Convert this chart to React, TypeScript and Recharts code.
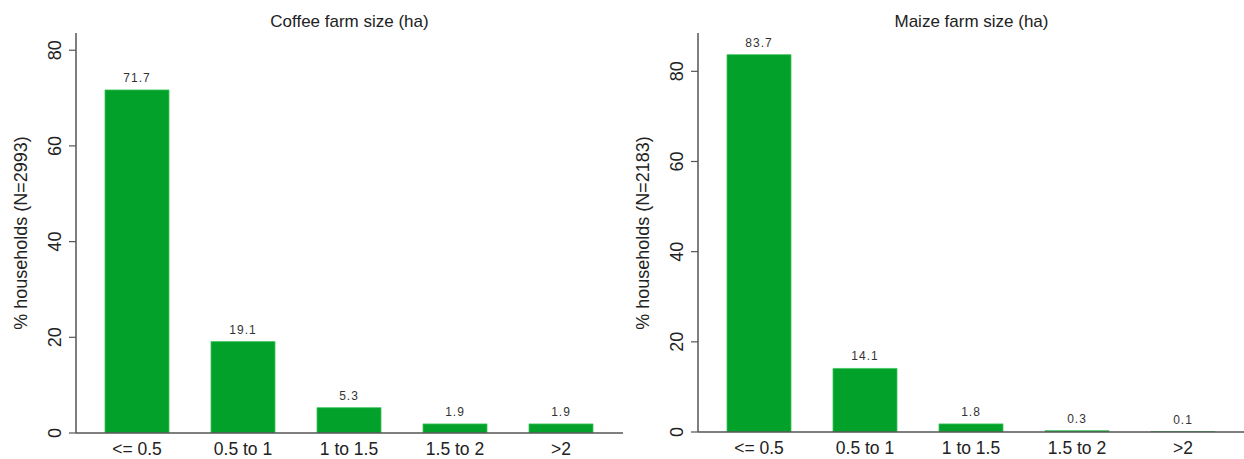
import React from 'react';
import { BarChart, Bar, XAxis, YAxis, LabelList } from 'recharts';

const categories = ['<= 0.5', '0.5 to 1', '1 to 1.5', '1.5 to 2', '>2'];
const coffeeShare = [71.7, 19.1, 5.3, 1.9, 1.9];
const maizeShare = [83.7, 14.1, 1.8, 0.3, 0.1];
const yTicks = [0, 20, 40, 60, 80];

const coffeeData = categories.map((c, i) => ({ cat: c, v: coffeeShare[i] }));
const maizeData = categories.map((c, i) => ({ cat: c, v: maizeShare[i] }));

const FONT = 'Arial, "Liberation Sans", sans-serif';
const BAR = '#02a12a';

const YTick = (props: any) => {
  const { x, y, payload } = props;
  return (
    <text
      x={x}
      y={y}
      transform={`rotate(-90, ${x}, ${y})`}
      textAnchor="middle"
      fontSize={18}
      fill="#222"
      fontFamily={FONT}
    >
      {payload.value}
    </text>
  );
};

type PanelProps = {
  data: { cat: string; v: number }[];
  yMax: number;
  bottomPad: number;
};

const Panel = ({ data, yMax, bottomPad }: PanelProps) => (
  <BarChart
    width={640}
    height={459}
    data={data}
    margin={{ top: 33, right: 17, bottom: bottomPad, left: 36 }}
    barCategoryGap={21}
  >
    <XAxis
      xAxisId="top"
      orientation="top"
      dataKey="cat"
      height={0}
      tick={false}
      tickLine={false}
      axisLine={{ stroke: '#7a7a7a', strokeWidth: 1.5 }}
      padding={{ left: 8, right: 9 }}
    />
    <YAxis
      yAxisId="r"
      orientation="right"
      width={0}
      type="number"
      domain={[0, 1]}
      tick={false}
      tickLine={false}
      axisLine={{ stroke: '#7a7a7a', strokeWidth: 1.5 }}
    />
    <XAxis
      dataKey="cat"
      height={26}
      tickSize={0}
      tickMargin={10}
      tickLine={false}
      axisLine={{ stroke: '#555', strokeWidth: 1.5 }}
      tick={{ fontSize: 17.5, fill: '#222', fontFamily: FONT }}
      padding={{ left: 8, right: 9 }}
      interval={0}
    />
    <YAxis
      type="number"
      width={40}
      domain={[0, yMax]}
      allowDataOverflow
      ticks={yTicks}
      tickSize={7}
      tickMargin={8}
      tickLine={{ stroke: '#555', strokeWidth: 1.2 }}
      axisLine={{ stroke: '#555', strokeWidth: 1.5 }}
      tick={<YTick />}
    />
    <Bar dataKey="v" fill={BAR} stroke="#3cc45a" strokeWidth={0.8} isAnimationActive={false}>
      <LabelList
        dataKey="v"
        position="top"
        offset={8}
        fontSize={12}
        fill="#333"
        fontFamily={FONT}
        style={{ letterSpacing: '1px' }}
        formatter={(v: any) => Number(v).toFixed(1)}
      />
    </Bar>
  </BarChart>
);

export default function App() {
  return (
    <div
      style={{
        position: 'absolute',
        left: 0,
        top: 0,
        width: 1244,
        height: 459,
        overflow: 'hidden',
        background: '#fff',
        fontFamily: FONT,
      }}
    >
      <div style={{ position: 'absolute', left: 0, top: 0 }}>
        <Panel data={coffeeData} yMax={83.6} bottomPad={0} />
      </div>
      <div style={{ position: 'absolute', left: 622, top: 0 }}>
        <Panel data={maizeData} yMax={88.5} bottomPad={1} />
      </div>
      <svg
        width={1244}
        height={459}
        style={{ position: 'absolute', left: 0, top: 0, pointerEvents: 'none' }}
      >
        <text x={349.5} y={26.5} textAnchor="middle" fontSize={17} fill="#222" fontFamily={FONT}>
          Coffee farm size (ha)
        </text>
        <text x={971.5} y={26.5} textAnchor="middle" fontSize={17} fill="#222" fontFamily={FONT}>
          Maize farm size (ha)
        </text>
        <text
          x={26.5}
          y={233}
          transform="rotate(-90, 26.5, 233)"
          textAnchor="middle"
          fontSize={18}
          fill="#222"
          fontFamily={FONT}
        >
          % households (N=2993)
        </text>
        <text
          x={648.5}
          y={233}
          transform="rotate(-90, 648.5, 233)"
          textAnchor="middle"
          fontSize={18}
          fill="#222"
          fontFamily={FONT}
        >
          % households (N=2183)
        </text>
      </svg>
    </div>
  );
}
